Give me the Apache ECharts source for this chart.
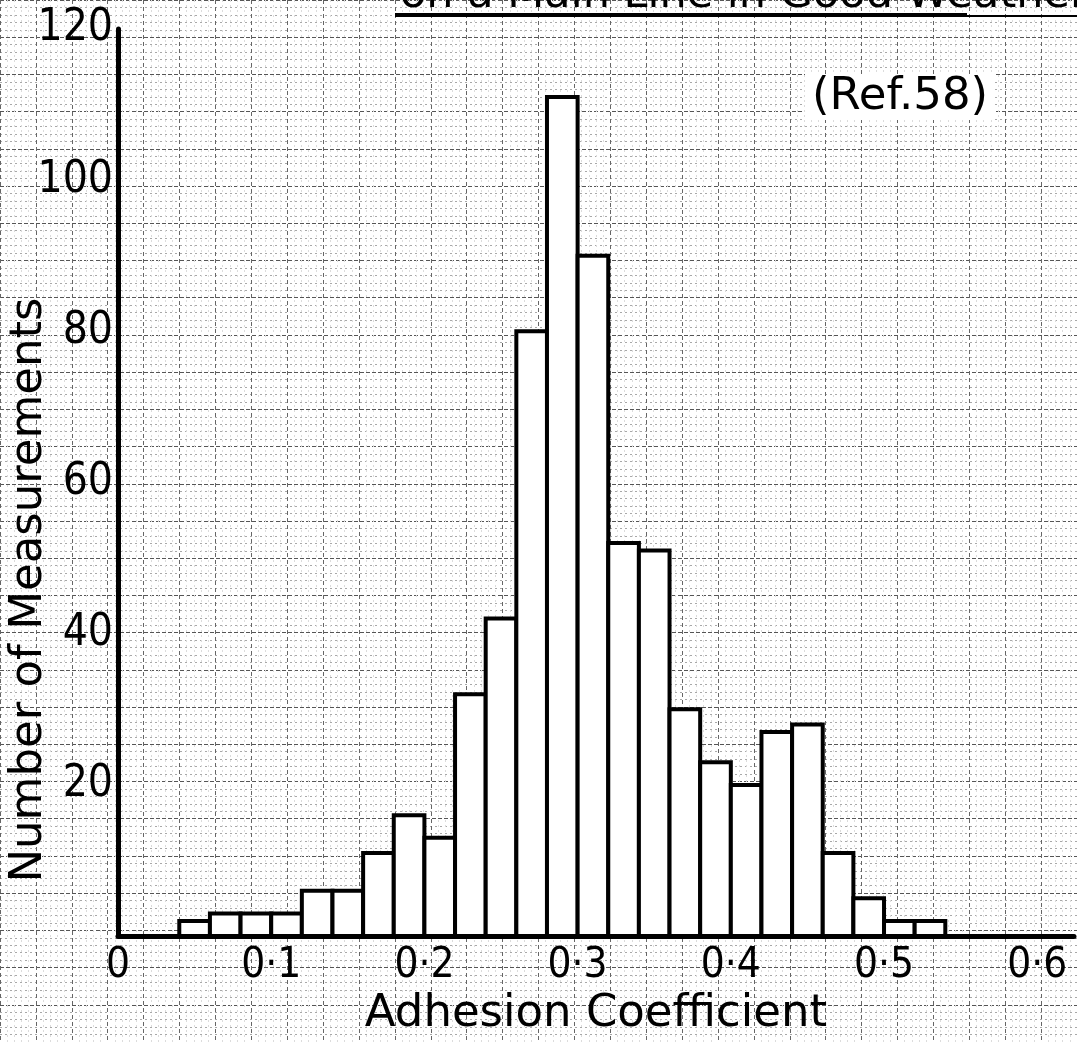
<!DOCTYPE html>
<html>
<head>
<meta charset="utf-8">
<script src="https://cdn.jsdelivr.net/npm/echarts@6/dist/echarts.min.js"></script>
<style>
  html, body { margin: 0; padding: 0; background: #ffffff; }
  #chart { width: 1077px; height: 1042px; }
</style>
</head>
<body>
<div id="chart"></div>
<script>
// ---- Data ----
const binStarts = [0.04, 0.06, 0.08, 0.10, 0.12, 0.14, 0.16, 0.18, 0.20, 0.22, 0.24, 0.26, 0.28,
                   0.30, 0.32, 0.34, 0.36, 0.38, 0.40, 0.42, 0.44, 0.46, 0.48, 0.50, 0.52];
const counts    = [2, 3, 3, 3, 6, 6, 11, 16, 13, 32, 42, 80, 111,
                   90, 52, 51, 30, 23, 20, 27, 28, 11, 5, 2, 2];
const binWidth = 0.02;

const xTickValues = [0, 0.1, 0.2, 0.3, 0.4, 0.5, 0.6];
const xTickLabels = ['0', '0·1', '0·2', '0·3', '0·4', '0·5', '0·6'];
const yTickValues = [20, 40, 60, 80, 100, 120];
const yTickLabels = ['20', '40', '60', '80', '100', '120'];

const xName = 'Adhesion Coefficient';
const yName = 'Number of Measurements';
const titleText = 'on a Main Line in Good Weather';
const refText = '(Ref.58)';

function lookup(values, labels) {
  return function (v) {
    for (let i = 0; i < values.length; i++) {
      if (Math.abs(values[i] - v) < 1e-6) return labels[i];
    }
    return '';
  };
}

const histData = binStarts.map((s, i) => [s, s + binWidth, counts[i]]);

const chart = echarts.init(document.getElementById('chart'), null, { renderer: 'canvas' });

const labelFont = "'DejaVu Sans Condensed', sans-serif";
const textFont = "'DejaVu Sans', sans-serif";

const option = {
  backgroundColor: '#ffffff',
  animation: false,
  grid: [
    { left: 118, right: 0, top: 29, bottom: 97, containLabel: false },
    // graph-paper background grid covering the whole page
    { left: -35.7, right: -40.05, top: -9.2, bottom: -17.5, containLabel: false, z: 0 }
  ],
  xAxis: [
    {
      gridIndex: 0, type: 'value', min: 0, max: 0.624, interval: 0.1, z: 5,
      axisLine: { show: true, lineStyle: { color: '#000', width: 5 } },
      axisTick: { show: false },
      splitLine: { show: false },
      axisLabel: {
        show: true, margin: 9, color: '#000',
        fontFamily: labelFont, fontSize: 42,
        formatter: lookup(xTickValues, xTickLabels)
      },
      name: xName, nameLocation: 'middle', nameGap: 54,
      nameTextStyle: { color: '#000', fontFamily: textFont, fontSize: 45 }
    },
    {
      gridIndex: 1, type: 'value', min: -0.1, max: 0.65, interval: 0.025, z: 0,
      axisLine: { show: false }, axisTick: { show: false }, axisLabel: { show: false },
      minorTick: { show: false, splitNumber: 5 },
      splitLine: { show: true, lineStyle: { color: '#666666', width: 1, type: [4, 3] } },
      minorSplitLine: { show: true, lineStyle: { color: '#dcdcdc', width: 1, type: [2, 3] } }
    }
  ],
  yAxis: [
    {
      gridIndex: 0, type: 'value', min: 0, max: 120, interval: 20, z: 5,
      axisLine: { show: true, lineStyle: { color: '#000', width: 5 } },
      axisTick: { show: false },
      splitLine: { show: false },
      axisLabel: {
        show: true, margin: 5, color: '#000',
        fontFamily: labelFont, fontSize: 44,
        formatter: lookup(yTickValues, yTickLabels)
      }
    },
    {
      gridIndex: 1, type: 'value', min: -15, max: 125, interval: 5, z: 0,
      axisLine: { show: false }, axisTick: { show: false }, axisLabel: { show: false },
      minorTick: { show: false, splitNumber: 5 },
      splitLine: { show: true, lineStyle: { color: '#555555', width: 1, type: [4, 2] } },
      minorSplitLine: { show: true, lineStyle: { color: '#a8a8a8', width: 1, type: [2, 3] } }
    }
  ],
  series: [
    {
      type: 'custom',
      xAxisIndex: 0, yAxisIndex: 0, z: 3,
      data: histData,
      encode: { x: [0, 1], y: 2 },
      renderItem: function (params, api) {
        const x0 = api.value(0), x1 = api.value(1), v = api.value(2);
        const pTop = api.coord([x0, v]);
        const pBot = api.coord([x1, 0]);
        return {
          type: 'rect',
          shape: { x: pTop[0], y: pTop[1], width: pBot[0] - pTop[0], height: pBot[1] - pTop[1] },
          style: { fill: '#ffffff', stroke: '#000000', lineWidth: 4 }
        };
      }
    }
  ],
  graphic: [
    {
      type: 'text', z: 10, x: 29, y: 590, rotation: Math.PI / 2,
      style: { text: yName, font: "45px 'DejaVu Sans', sans-serif", fill: '#000',
               align: 'center', verticalAlign: 'middle' }
    },
    {
      type: 'text', z: 10, x: 400, y: -4,
      style: { text: titleText, font: "43px 'DejaVu Sans', sans-serif", fill: '#000',
               align: 'left', verticalAlign: 'middle' }
    },
    {
      type: 'line', z: 10,
      shape: { x1: 395, y1: 15, x2: 967, y2: 15 },
      style: { stroke: '#000', lineWidth: 4 }
    },
    {
      type: 'line', z: 10,
      shape: { x1: 967, y1: 16, x2: 1077, y2: 16 },
      style: { stroke: '#000', lineWidth: 2 }
    },
    {
      type: 'rect', z: 4,
      shape: { x: 805, y: 74, width: 190, height: 46 },
      style: { fill: '#ffffff' }
    },
    {
      type: 'text', z: 10, x: 900, y: 97,
      style: { text: refText, font: "45px 'DejaVu Sans', sans-serif", fill: '#000',
               align: 'center', verticalAlign: 'middle' }
    }
  ]
};

chart.setOption(option);
</script>
</body>
</html>
